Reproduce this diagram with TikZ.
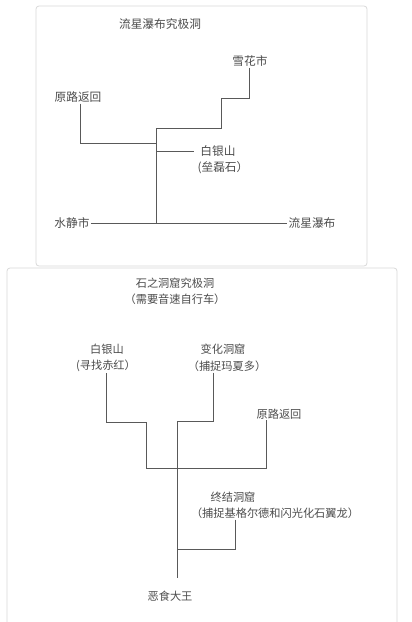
\documentclass[tikz,border=0pt]{standalone}
\usepackage{fontspec}
\newfontfamily\cjk{Noto Sans CJK SC}
\begin{document}
\begin{tikzpicture}[x=1pt,y=-1pt,
  lbl/.style={font=\cjk\fontsize{11.7}{13}\selectfont, text=black!70, inner sep=1pt},
  lbls/.style={font=\cjk\fontsize{11.2}{12}\selectfont, text=black!70, inner sep=1pt},
  wire/.style={draw=black!65, line width=0.9pt},
  panel/.style={draw=black!15, line width=0.8pt, rounded corners=3pt}]
\useasboundingbox[fill=white] (0,0) rectangle (412,622);
% panels
\draw[panel] (36,6) rectangle (367,266);
\draw[panel] (7,268) rectangle (397,640);
% ---- top panel
\node[lbl] (t1) at (160,24) {流星瀑布究极洞};
\node[lbl] (xh) at (250,61) {雪花市};
\node[lbl] (yl1) at (78,97) {原路返回};
\node[lbl] (by1) at (218,151) {白银山};
\node[lbl] (lei) at (223,168) {(垒磊石）};
\node[lbl] (sj) at (72,223) {水静市};
\node[lbl] (lx) at (312,223) {流星瀑布};
\coordinate (a1) at (156,128);
\coordinate (a2) at (156,143);
\coordinate (a3) at (156,151);
\coordinate (a4) at (156,223);
\draw[wire] (xh.south -| 249,0) -- (249,98) -- (221,98) -- (221,128) -- (a1);
\draw[wire] (a1) -- (a4);
\draw[wire] (yl1.south -| 80,0) |- (a2);
\draw[wire] (a3) -- ([xshift=-5pt]by1.west);
\draw[wire] (sj.east) -- (lx.west);
% ---- bottom panel
\node[lbls] (t2) at (175,283) {石之洞窟究极洞};
\node[lbls] (t2b) at (175,299) {（需要音速自行车）};
\node[lbls] (by2) at (107,349) {白银山};
\node[lbls] (chi) at (106,366) {(寻找赤红）};
\node[lbls] (bh) at (223,349) {变化洞窟};
\node[lbls] (mxd) at (227,366) {（捕捉玛夏多）};
\node[lbls] (yl2) at (279,414) {原路返回};
\node[lbls] (zj) at (233,497) {终结洞窟};
\node[lbls] (zjb) at (275,513) {（捕捉基格尔德和闪光化石翼龙）};
\node[lbls] (es) at (170,596) {恶食大王};
\coordinate (b1) at (177,421);
\coordinate (b2) at (177,549);
\coordinate (b3) at (177,578);
\draw[wire] (chi.south -| 106,0) -- (106,422) -- (146,422) -- (146,468) -- (266,468) -- (yl2.south -| 266,0);
\draw[wire] (mxd.south -| 213,0) -- (213,421) -- (b1);
\draw[wire] (b1) -- (b3);
\draw[wire] (zjb.south -| 235,0) |- (b2);
\end{tikzpicture}
\end{document}
